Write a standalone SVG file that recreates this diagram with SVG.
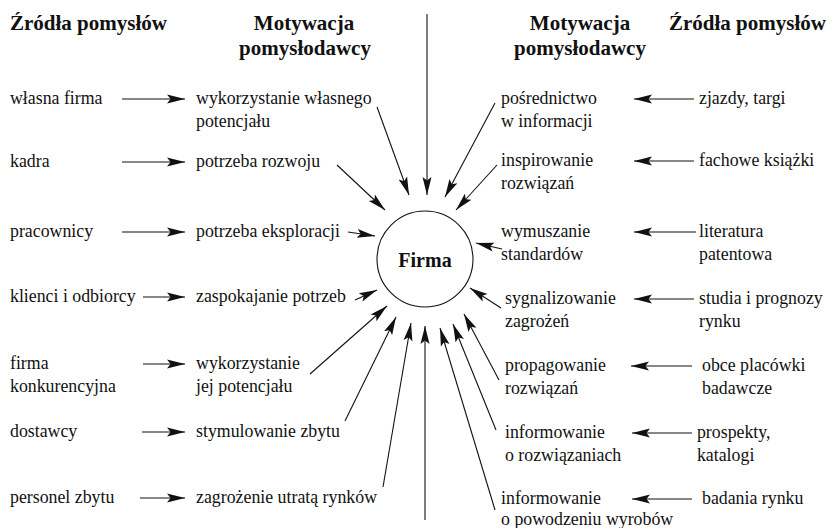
<svg xmlns="http://www.w3.org/2000/svg" width="834" height="528" viewBox="0 0 834 528">
<defs>
<marker id="ah" markerWidth="19" markerHeight="11" refX="18" refY="5.5" orient="auto" markerUnits="userSpaceOnUse">
<path d="M0,1 L18,5.5 L0,10 L3.5,5.5 z" fill="#111"/>
</marker>
<style>
text{font-family:"Liberation Serif","Times New Roman",serif;fill:#111}
.t{font-size:19.8px}
.h{font-size:21px;font-weight:bold}
.hc{font-size:21px;font-weight:bold;text-anchor:middle}
.f{font-size:20px;font-weight:bold;text-anchor:middle}
.c line{stroke:#111;stroke-width:1.1;marker-end:url(#ah)}
</style>
</defs>
<rect width="834" height="528" fill="#fff"/>
<g id="headers">
<text class="h" x="10" y="30">Źródła pomysłów</text>
<text class="hc" x="304" y="30">Motywacja</text>
<text class="hc" x="305" y="55">pomysłodawcy</text>
<text class="hc" x="580" y="30">Motywacja</text>
<text class="hc" x="580" y="55">pomysłodawcy</text>
<text class="h" x="669" y="30">Źródła pomysłów</text>
</g>
<g id="firma">
<circle cx="425" cy="259" r="48" fill="none" stroke="#111" stroke-width="1.1"/>
<text class="f" x="425" y="267">Firma</text>
</g>
<g id="left-sources" transform="scale(0.9 1)">
<text class="t" x="11.1" y="104">własna firma</text>
<text class="t" x="11.1" y="167">kadra</text>
<text class="t" x="11.1" y="237">pracownicy</text>
<text class="t" x="11.1" y="302">klienci i odbiorcy</text>
<text class="t" x="11.1" y="369">firma</text>
<text class="t" x="11.1" y="392">konkurencyjna</text>
<text class="t" x="11.1" y="437">dostawcy</text>
<text class="t" x="11.1" y="503">personel zbytu</text>
</g>
<g id="left-motivations" transform="scale(0.9 1)">
<text class="t" x="217.8" y="104">wykorzystanie własnego</text>
<text class="t" x="217.8" y="127">potencjału</text>
<text class="t" x="217.8" y="167">potrzeba rozwoju</text>
<text class="t" x="217.8" y="237">potrzeba eksploracji</text>
<text class="t" x="217.8" y="302">zaspokajanie potrzeb</text>
<text class="t" x="217.8" y="369">wykorzystanie</text>
<text class="t" x="217.8" y="392">jej potencjału</text>
<text class="t" x="217.8" y="437">stymulowanie zbytu</text>
<text class="t" x="217.8" y="503">zagrożenie utratą rynków</text>
</g>
<g id="right-motivations" transform="scale(0.9 1)">
<text class="t" x="556.7" y="104">pośrednictwo</text>
<text class="t" x="556.7" y="127">w informacji</text>
<text class="t" x="556.7" y="166">inspirowanie</text>
<text class="t" x="556.7" y="189">rozwiązań</text>
<text class="t" x="556.7" y="237">wymuszanie</text>
<text class="t" x="556.7" y="260">standardów</text>
<text class="t" x="561.1" y="304">sygnalizowanie</text>
<text class="t" x="561.1" y="327">zagrożeń</text>
<text class="t" x="561.1" y="371">propagowanie</text>
<text class="t" x="561.1" y="394">rozwiązań</text>
<text class="t" x="561.1" y="438">informowanie</text>
<text class="t" x="561.1" y="461">o rozwiązaniach</text>
<text class="t" x="556.7" y="504">informowanie</text>
<text class="t" x="556.7" y="525">o powodzeniu wyrobów</text>
</g>
<g id="right-sources" transform="scale(0.9 1)">
<text class="t" x="776.7" y="104">zjazdy, targi</text>
<text class="t" x="776.7" y="166">fachowe książki</text>
<text class="t" x="776.7" y="237">literatura</text>
<text class="t" x="776.7" y="260">patentowa</text>
<text class="t" x="776.7" y="304">studia i prognozy</text>
<text class="t" x="776.7" y="327">rynku</text>
<text class="t" x="780" y="371">obce placówki</text>
<text class="t" x="780" y="394">badawcze</text>
<text class="t" x="774.4" y="438">prospekty,</text>
<text class="t" x="774.4" y="461">katalogi</text>
<text class="t" x="780" y="504">badania rynku</text>
</g>
<g id="connectors" class="c">
<line x1="122" y1="99" x2="185" y2="99"/>
<line x1="122" y1="162" x2="185" y2="162"/>
<line x1="122" y1="232" x2="185" y2="232"/>
<line x1="143" y1="297" x2="185" y2="297"/>
<line x1="143" y1="364" x2="185" y2="364"/>
<line x1="142" y1="432" x2="185" y2="432"/>
<line x1="140" y1="498" x2="185" y2="498"/>
<line x1="694" y1="99" x2="634" y2="99"/>
<line x1="694" y1="161" x2="634" y2="161"/>
<line x1="696" y1="232" x2="634" y2="232"/>
<line x1="694" y1="299" x2="634" y2="299"/>
<line x1="692" y1="366" x2="631" y2="366"/>
<line x1="692" y1="433" x2="632" y2="433"/>
<line x1="692" y1="499" x2="632" y2="499"/>
<line x1="377" y1="107" x2="409" y2="195"/>
<line x1="427" y1="14" x2="427" y2="195"/>
<line x1="495" y1="103" x2="445" y2="197"/>
<line x1="337" y1="165" x2="385" y2="210"/>
<line x1="497" y1="165" x2="456" y2="210"/>
<line x1="348" y1="232" x2="375" y2="236"/>
<line x1="502" y1="249" x2="476" y2="243"/>
<line x1="355" y1="300" x2="377" y2="290"/>
<line x1="501" y1="308" x2="470" y2="288"/>
<line x1="310" y1="374" x2="387" y2="306"/>
<line x1="345" y1="421" x2="396" y2="317"/>
<line x1="383" y1="487" x2="411" y2="323"/>
<line x1="425" y1="520" x2="425" y2="326"/>
<line x1="495" y1="510" x2="440" y2="328"/>
<line x1="496" y1="430" x2="453" y2="324"/>
<line x1="499" y1="380" x2="464" y2="314"/>
</g>
</svg>
